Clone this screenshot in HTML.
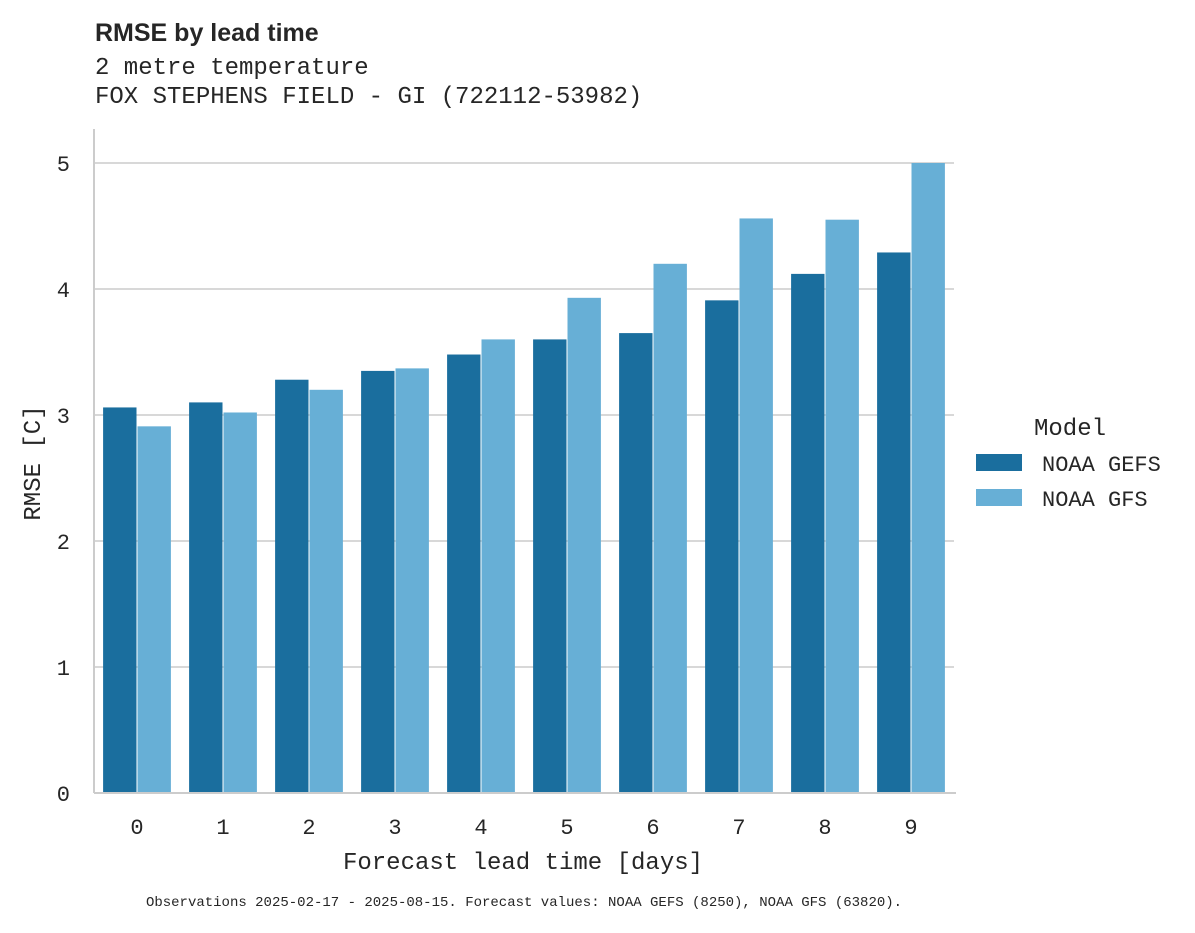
<!DOCTYPE html>
<html><head><meta charset="utf-8"><style>
body{margin:0;background:#fff;width:1195px;height:928px;overflow:hidden}
svg text{fill:#262626}
.mono{font-family:"Liberation Mono",monospace}
</style></head><body>
<svg id="chart" width="1195" height="928">
<text x="95" y="41" font-family="Liberation Sans, sans-serif" font-weight="bold" font-size="25">RMSE by lead time</text>
<text class="mono" x="95" y="74" font-size="24">2 metre temperature</text>
<text class="mono" x="95" y="103" font-size="24">FOX STEPHENS FIELD - GI (722112-53982)</text>
<g id="grid"></g><g id="bars"></g><g id="axes"></g>
<text class="mono" x="523" y="869" font-size="24" text-anchor="middle">Forecast lead time [days]</text>
<text class="mono" transform="translate(40,463) rotate(-90)" font-size="24" text-anchor="middle">RMSE [C]</text>
<text class="mono" x="524" y="906" font-size="14" text-anchor="middle">Observations 2025-02-17 - 2025-08-15. Forecast values: NOAA GEFS (8250), NOAA GFS (63820).</text>
<g>
<text class="mono" x="1034" y="435" font-size="24">Model</text>
<rect x="976" y="454" width="46" height="17" fill="#1a6e9e"/>
<text class="mono" x="1042" y="471" font-size="22">NOAA GEFS</text>
<rect x="976" y="489" width="46" height="17" fill="#67afd6"/>
<text class="mono" x="1042" y="506" font-size="22">NOAA GFS</text>
</g>
</svg>
<script>
const categories=[0,1,2,3,4,5,6,7,8,9];
const gefs=[3.06,3.10,3.28,3.35,3.48,3.60,3.65,3.91,4.12,4.29];
const gfs=[2.91,3.02,3.20,3.37,3.60,3.93,4.20,4.56,4.55,5.00];
const yTicks=[0,1,2,3,4,5];
const NS='http://www.w3.org/2000/svg';
const X0=94,X1=954,Y0=793,PX=126;
const step=(X1-X0)/categories.length;
const y=v=>Y0-v*PX;
const xc=i=>X0+step*(i+0.5);
const grid=document.getElementById('grid'),bars=document.getElementById('bars'),axes=document.getElementById('axes');
function mk(tag,attrs,parent){const e=document.createElementNS(NS,tag);for(const k in attrs)e.setAttribute(k,attrs[k]);parent.appendChild(e);return e;}
yTicks.forEach(t=>{
  const l=mk('line',{x1:X0,x2:X1,y1:y(t),y2:y(t),stroke:'#cccccc','stroke-width':1.5},grid);
  
  
  const tx=mk('text',{x:70,y:y(t)+8,'font-size':22,'text-anchor':'end','class':'mono'},axes);
  tx.textContent=t;
  
  
});
const bw=step*0.4-1;
categories.forEach((c,i)=>{
  const a=mk('rect',{x:xc(i)-step*0.4+0.5,y:y(gefs[i]),width:bw,height:Y0-y(gefs[i]),fill:'#1a6e9e'},bars);
  
  
  const b=mk('rect',{x:xc(i)+0.5,y:y(gfs[i]),width:bw,height:Y0-y(gfs[i]),fill:'#67afd6'},bars);
  
  
  const tx=mk('text',{x:xc(i),y:834,'font-size':22,'text-anchor':'middle','class':'mono'},axes);
  tx.textContent=c;
  
  
});
const ax=mk('line',{x1:X0,x2:X1+2,y1:Y0,y2:Y0,stroke:'#cccccc','stroke-width':2},axes);


const ay=mk('line',{x1:X0,x2:X0,y1:Y0,y2:129,stroke:'#cccccc','stroke-width':2},axes);


</script>
</body></html>
